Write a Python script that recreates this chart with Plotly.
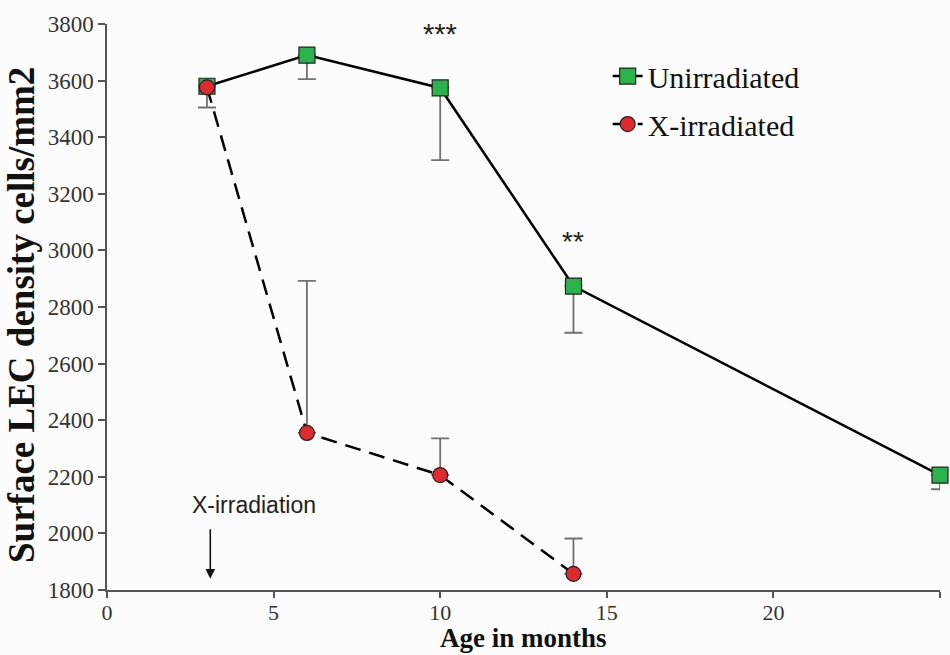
import plotly.graph_objects as go

age_unirr = [3, 6, 10, 14, 25]
dens_unirr = [3580, 3690, 3574, 2874, 2206]
err_unirr = [75, 85, 255, 165, 50]

age_xirr = [3, 6, 10, 14]
dens_xirr = [3576, 2355, 2206, 1857]
err_xirr = [0, 537, 130, 125]

x_ticks = [0, 5, 10, 15, 20, 25]
y_ticks = [1800, 2000, 2200, 2400, 2600, 2800, 3000, 3200, 3400, 3600, 3800]

serif = "Liberation Serif, Times New Roman, serif"
sans = "Liberation Sans, Arial, sans-serif"

fig = go.Figure()
fig.add_trace(go.Scatter(
    x=age_unirr, y=dens_unirr, name="Unirradiated", mode="lines+markers",
    legendgroup="a",
    line=dict(color="black", width=2.5),
    marker=dict(symbol="square", size=16, color="#2bb24c", line=dict(color="#222", width=1.2)),
    error_y=dict(type="data", array=[0]*len(err_unirr), arrayminus=err_unirr, symmetric=False,
                 color="#707070", thickness=1.8, width=9),
    cliponaxis=False,
))
fig.add_trace(go.Scatter(
    x=age_xirr, y=dens_xirr, name="X-irradiated", mode="lines+markers",
    legendgroup="b",
    line=dict(color="black", width=2.5, dash="16px,9px"),
    marker=dict(symbol="circle", size=15, color="#e02a2e", line=dict(color="#222", width=1.2)),
    error_y=dict(type="data", array=err_xirr, arrayminus=[0]*len(err_xirr), symmetric=False,
                 color="#707070", thickness=1.8, width=9),
    cliponaxis=False,
))

# significance marks
fig.add_annotation(x=10, y=3765, text="***", showarrow=False,
                   font=dict(family=sans, size=29, color="#222"))
fig.add_annotation(x=14, y=3030, text="**", showarrow=False,
                   font=dict(family=sans, size=28, color="#222"))
# X-irradiation label and arrow
fig.add_annotation(x=4.4, y=2100, text="X-irradiation", showarrow=False,
                   font=dict(family=sans, size=23, color="#222"))
fig.add_annotation(x=3.1, y=1840, ax=3.1, ay=2020, axref="x", ayref="y", xref="x", yref="y",
                   text="", showarrow=True, arrowhead=2, arrowsize=1.2, arrowwidth=1.6,
                   arrowcolor="#111")

# axis titles
fig.add_annotation(xref="paper", yref="paper", x=0, y=0.5, xshift=-86, yshift=-8,
                   xanchor="center", yanchor="middle", textangle=-90, showarrow=False,
                   text="<b>Surface LEC density cells/mm2</b>",
                   font=dict(family=serif, size=37, color="#111"))
fig.add_annotation(xref="paper", yref="paper", x=0.5, y=0, yshift=-65,
                   xanchor="center", yanchor="bottom", showarrow=False,
                   text="<b>Age in months</b>",
                   font=dict(family=serif, size=27, color="#111"))

fig.update_layout(
    width=950, height=655,
    margin=dict(l=107, r=10, t=24, b=65, autoexpand=False),
    paper_bgcolor="#fcfcfc", plot_bgcolor="#fcfcfc",
    showlegend=True,
    legend=dict(x=0.601, y=0.954, xanchor="left", yanchor="top",
                font=dict(family=serif, size=30, color="#111"),
                bgcolor="rgba(0,0,0,0)", traceorder="grouped", tracegroupgap=6),
    xaxis=dict(range=[0, 25], tickvals=x_ticks, showgrid=False, zeroline=False,
               showline=True, linecolor="#555", linewidth=1.5, ticks="outside",
               ticklen=6, tickcolor="#555", tickwidth=1.5, automargin=False,
               ticklabelstandoff=-4,
               tickfont=dict(family=serif, size=22, color="#333")),
    yaxis=dict(range=[1800, 3800], tickvals=y_ticks, showgrid=False, zeroline=False,
               showline=True, linecolor="#555", linewidth=1.5, ticks="outside",
               ticklen=7, tickcolor="#555", tickwidth=1.5, automargin=False,
               tickfont=dict(family=serif, size=23, color="#333")),
)

fig.write_html("out.html")
